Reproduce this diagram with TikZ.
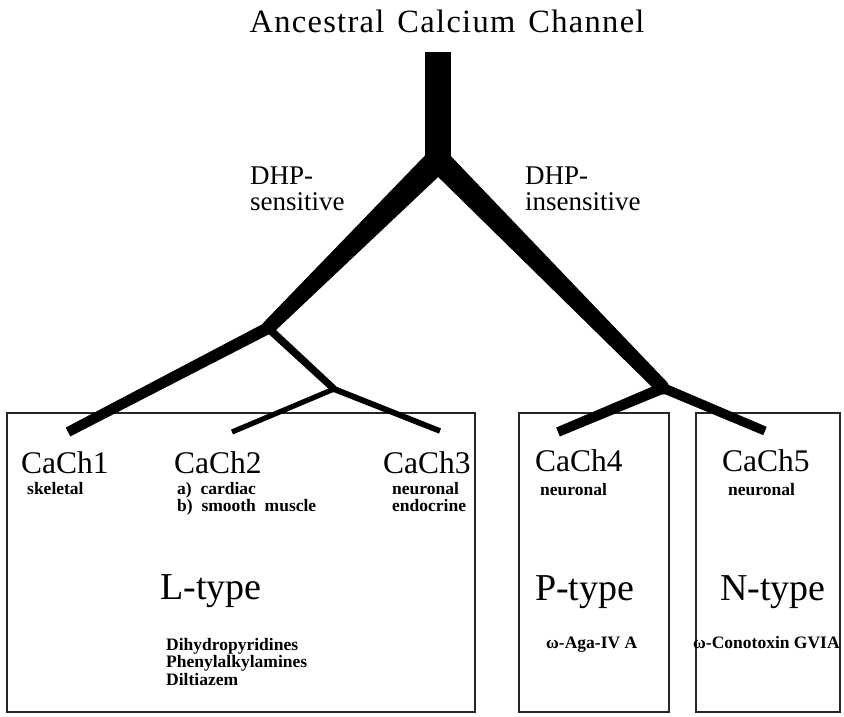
\documentclass[tikz,border=0pt]{standalone}
\usepackage{fontspec}
\setmainfont{Liberation Serif}
\usetikzlibrary{calc,positioning}

% tapered limb of the tree: from, to, half width at from, half width at to
\newcommand{\limb}[4]{%
  \fill ($(#1)!#3!90:(#2)$) -- ($(#2)!#4!-90:(#1)$) -- ($(#2)!#4!90:(#1)$) -- ($(#1)!#3!-90:(#2)$) -- cycle;}

\tikzset{
  chan/.style={font=\fontsize{31.5}{33}\selectfont, anchor=base west, inner sep=0pt},
  tissue/.style={font=\bfseries\fontsize{17.5}{17.5}\selectfont, anchor=north west, inner sep=0pt, align=left},
  kind/.style={font=\fontsize{38}{40}\selectfont, anchor=base west, inner sep=0pt},
  toxin/.style={font=\bfseries\fontsize{17.5}{17.5}\selectfont, anchor=base west, inner sep=0pt},
  dhp/.style={font=\fontsize{27}{26}\selectfont, anchor=north west, inner sep=0pt, align=left},
  group/.style={draw=black!85, line width=1.1pt}
}

\begin{document}
\begin{tikzpicture}[x=1pt,y=-1pt]
	\useasboundingbox (0,0) rectangle (844,716);
	% title
	\node[font=\fontsize{32.5}{34}\selectfont\addfontfeature{LetterSpace=4}, anchor=base, inner sep=0pt] (title) at (447,32) {Ancestral\hspace{13pt}Calcium\hspace{13pt}Channel};
	% boxes of the three channel types
	\draw[group] (7,413) rectangle (475,712);
	\draw[group] (519,413) rectangle (669,712);
	\draw[group] (696,413) rectangle (840,712);
	% branch points and tips
	\coordinate (top) at (438,52);
	\coordinate (root) at (438,160);
	\coordinate (jL) at (268,328);
	\coordinate (jL2) at (334,389);
	\coordinate (jR) at (663,388);
	\coordinate (e1) at (68,432);
	\coordinate (e2) at (232,432);
	\coordinate (e3) at (440,431);
	\coordinate (e4) at (558,432);
	\coordinate (e5) at (765,431);
	% tree
	\fill (425,52) rectangle (451,162);
	\fill (root) circle (12);
	\limb{root}{jL}{12.5pt}{7pt}
	\limb{root}{jR}{12pt}{7pt}
	\fill (jL) circle (6.5);
	\fill (jR) circle (6.5);
	\limb{jL}{e1}{6pt}{5pt}
	\limb{jL}{jL2}{4pt}{3.5pt}
	\fill (jL2) circle (3.2);
	\limb{jL2}{e2}{2.6pt}{2.6pt}
	\limb{jL2}{e3}{3pt}{2.8pt}
	\limb{jR}{e4}{5.5pt}{4.8pt}
	\limb{jR}{e5}{5pt}{4.5pt}
	% DHP labels
	\node[dhp] (sens) at (250,167) {DHP-\\sensitive};
	\node[dhp] (insens) at (525,167) {DHP-\\insensitive};
	% channels
	\node[chan] (c1) at (21,473) {CaCh1};
	\node[chan] (c2) at (174,473) {CaCh2};
	\node[chan] (c3) at (383,473) {CaCh3};
	\node[chan] (c4) at (535,471) {CaCh4};
	\node[chan] (c5) at (722,471) {CaCh5};
	\node[tissue] (t1) at (27,482) {skeletal};
	\node[tissue] (t2) at (177,482) {a)\ \ cardiac\\b)\ \ smooth\ \ muscle};
	\node[tissue] (t3) at (392,482) {neuronal\\endocrine};
	\node[tissue] (t4) at (540,483) {neuronal};
	\node[tissue] (t5) at (728,483) {neuronal};
	% types and their blockers
	\node[kind] (ltype) at (160,599) {L-type};
	\node[kind] (ptype) at (535,600) {P-type};
	\node[kind] (ntype) at (720,600) {N-type};
	\node[tissue] (ldrug) at (166,638) {Dihydropyridines\\Phenylalkylamines\\Diltiazem};
	\node[toxin] (pdrug) at (546,648) {ω-Aga-IV A};
	\node[toxin] (ndrug) at (693,648) {ω-Conotoxin GVIA};
\end{tikzpicture}
\end{document}
